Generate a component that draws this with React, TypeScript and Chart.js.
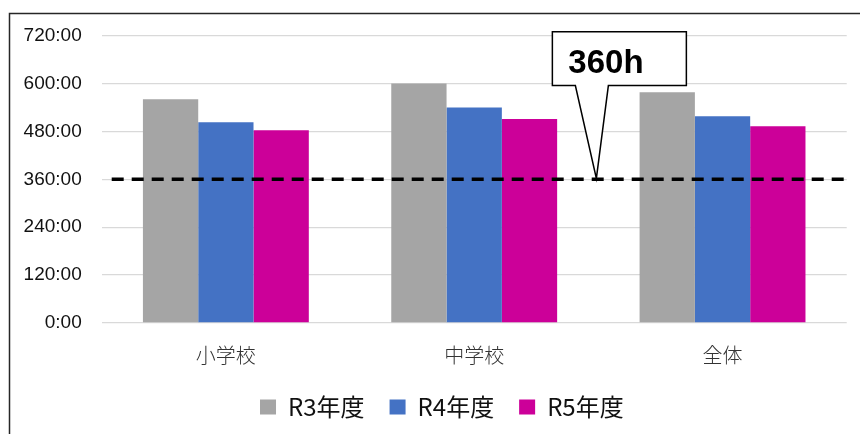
import React, { useEffect, useRef } from 'react';
import { Chart, registerables } from 'chart.js';

Chart.register(...registerables);

const categories = ['小学校', '中学校', '全体'];
const seriesLabels = ['R3年度', 'R4年度', 'R5年度'];
const r3Hours = [561, 600, 578];
const r4Hours = [503, 540, 518];
const r5Hours = [483, 511, 493];
const thresholdHours = 360;
const calloutText = '360h';
const yMax = 720;
const yStep = 120;

const overlayPlugin = {
  id: 'overlay',
  afterLayout(chart: any) {
    // centre the legend slightly right of the canvas centre, as in the reference
    if (chart.legend) {
      chart.legend.left += 18.5;
      chart.legend.right += 18.5;
    }
  },
  beforeDraw(chart: any) {
    const ctx = chart.ctx;
    ctx.save();
    ctx.strokeStyle = '#262626';
    ctx.lineWidth = 1.5;
    ctx.beginPath();
    ctx.moveTo(9.5, chart.height);
    ctx.lineTo(9.5, 13.5);
    ctx.lineTo(chart.width, 13.5);
    ctx.stroke();
    ctx.restore();
  },
  afterDatasetsDraw(chart: any) {
    const { ctx, chartArea, scales } = chart;
    const y = scales.y.getPixelForValue(thresholdHours);
    ctx.save();
    ctx.setLineDash([12, 8]);
    ctx.lineWidth = 3.5;
    ctx.strokeStyle = '#000';
    ctx.beginPath();
    ctx.moveTo(chartArea.left + 10, y);
    ctx.lineTo(chartArea.right + 3, y);
    ctx.stroke();
    ctx.setLineDash([]);

    const tipX = (scales.x.getPixelForValue(1) + scales.x.getPixelForValue(2)) / 2 - 2;
    const tipY = y - 1;
    const top = scales.y.getPixelForValue(yMax) - 4;
    const bottom = scales.y.getPixelForValue(yMax - yStep) + 2;
    const left = tipX - 44;
    const right = tipX + 90;
    ctx.beginPath();
    ctx.moveTo(left, top);
    ctx.lineTo(right, top);
    ctx.lineTo(right, bottom);
    ctx.lineTo(tipX + 12, bottom);
    ctx.lineTo(tipX, tipY);
    ctx.lineTo(tipX - 21, bottom);
    ctx.lineTo(left, bottom);
    ctx.closePath();
    ctx.fillStyle = '#fff';
    ctx.fill();
    ctx.lineWidth = 1.5;
    ctx.strokeStyle = '#000';
    ctx.stroke();
    ctx.font = 'bold 33px "Liberation Sans", Arial, sans-serif';
    ctx.textBaseline = 'alphabetic';
    ctx.textAlign = 'left';
    ctx.fillStyle = '#000';
    ctx.fillText(calloutText, left + 16, top + 41);
    ctx.restore();
  },
};

export default function App() {
  const canvasRef = useRef<HTMLCanvasElement | null>(null);

  useEffect(() => {
    if (!canvasRef.current) return;
    const chart = new Chart(canvasRef.current, {
      type: 'bar',
      data: {
        labels: categories,
        datasets: [
          { label: seriesLabels[0], data: r3Hours, backgroundColor: '#A5A5A5' },
          { label: seriesLabels[1], data: r4Hours, backgroundColor: '#4472C4' },
          { label: seriesLabels[2], data: r5Hours, backgroundColor: '#CC0099' },
        ],
      },
      options: {
        responsive: false,
        animation: false,
        devicePixelRatio: 1,
        layout: { padding: { left: 0, right: 13.3, top: 35.7, bottom: 5 } },
        datasets: {
          bar: { categoryPercentage: 0.668, barPercentage: 1 },
        },
        scales: {
          x: {
            grid: { display: false, drawTicks: false },
            border: { display: false },
            ticks: {
              padding: 20,
              color: '#333',
              font: { family: '"Noto Sans CJK JP", sans-serif', size: 20, weight: '300' as any },
            },
            afterFit(scale: any) {
              scale.height = 47;
            },
          },
          y: {
            min: 0,
            max: yMax,
            ticks: {
              stepSize: yStep,
              padding: 20,
              color: '#111',
              font: { family: '"Liberation Sans", Arial, sans-serif', size: 19 },
              callback: (v: any) => `${v}:00`,
            },
            grid: { color: '#D9D9D9', lineWidth: 1.3, drawTicks: false },
            border: { display: false },
            afterFit(scale: any) {
              scale.width = 101.7;
            },
          },
        },
        plugins: {
          legend: {
            position: 'bottom',
            labels: {
              boxWidth: 16,
              boxHeight: 15,
              padding: 25,
              color: '#111',
              font: { family: '"Noto Sans CJK JP", sans-serif', size: 24 },
            },
          },
          tooltip: { enabled: false },
        },
      },
      plugins: [overlayPlugin],
    });
    return () => chart.destroy();
  }, []);

  return (
    <div style={{ position: 'absolute', left: 0, top: 0, width: 860, height: 434, background: '#fff' }}>
      <canvas ref={canvasRef} width={860} height={434} style={{ width: 860, height: 434, display: 'block' }} />
    </div>
  );
}
